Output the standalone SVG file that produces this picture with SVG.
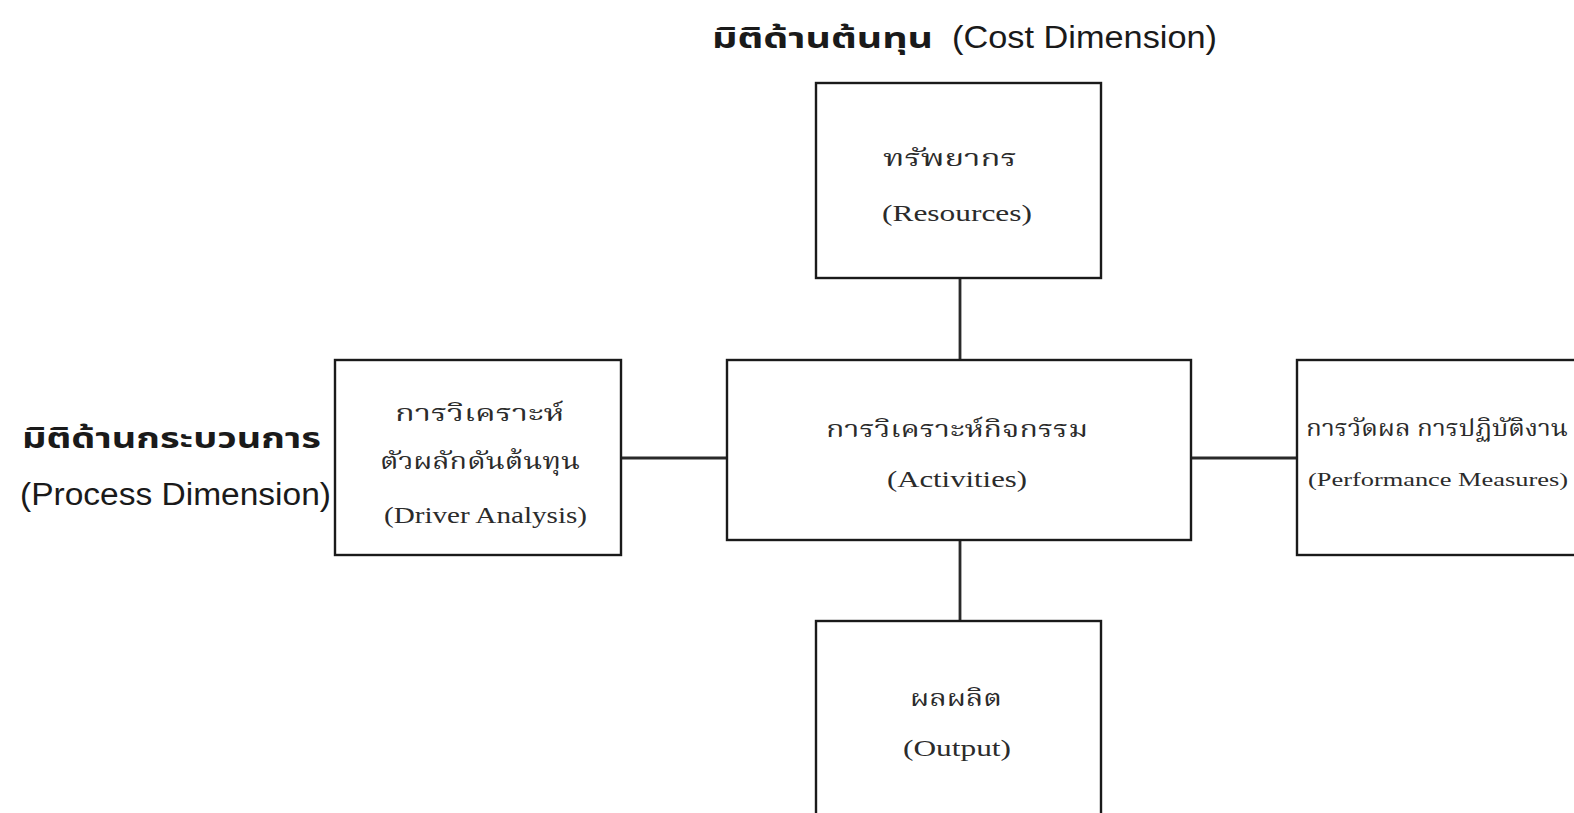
<svg xmlns="http://www.w3.org/2000/svg" width="1574" height="813" viewBox="0 0 1574 813">
  <style>
    .box { fill: #ffffff; stroke: #1a1a1a; stroke-width: 2.4; }
    .link { stroke: #2a2a2a; stroke-width: 2.8; fill: none; }
    .lbl { font-family: "Liberation Serif", "Noto Serif Thai", "Noto Sans Thai", serif; font-size: 23px; fill: #2b2b2b; }
    .th { font-size: 23px; }
    .small { font-size: 19px; }
    .dim { font-family: "Liberation Sans", "Noto Sans Thai", "Noto Sans", sans-serif; font-size: 31px; fill: #1a1a1a; }
    .dimth { font-weight: bold; font-size: 29px; }
  </style>

  <rect width="1574" height="813" fill="#ffffff"/>

  <!-- connectors between the activity box and its neighbours -->
  <g id="connectors">
    <line class="link" x1="960" y1="278" x2="960" y2="360"/>
    <line class="link" x1="960" y1="540" x2="960" y2="621"/>
    <line class="link" x1="621" y1="458" x2="727" y2="458"/>
    <line class="link" x1="1191" y1="458" x2="1297" y2="458"/>
  </g>

  <!-- axis captions -->
  <g id="cost-dimension">
    <text class="dim dimth" x="712" y="48" textLength="221" lengthAdjust="spacingAndGlyphs">มิติด้านต้นทุน</text>
    <text class="dim" x="952" y="48" textLength="265" lengthAdjust="spacingAndGlyphs">(Cost Dimension)</text>
  </g>
  <g id="process-dimension">
    <text class="dim dimth" x="22" y="448" textLength="299" lengthAdjust="spacingAndGlyphs">มิติด้านกระบวนการ</text>
    <text class="dim" x="20" y="505" textLength="311" lengthAdjust="spacingAndGlyphs">(Process Dimension)</text>
  </g>

  <g id="resources">
    <rect class="box" x="816" y="83" width="285" height="195"/>
    <text class="lbl th" x="883" y="166" textLength="134" lengthAdjust="spacingAndGlyphs">ทรัพยากร</text>
    <text class="lbl" x="882" y="221" textLength="150" lengthAdjust="spacingAndGlyphs">(Resources)</text>
  </g>

  <g id="activities">
    <rect class="box" x="727" y="360" width="464" height="180"/>
    <text class="lbl th" x="826" y="437" textLength="262" lengthAdjust="spacingAndGlyphs">การวิเคราะห์กิจกรรม</text>
    <text class="lbl" x="887" y="487" textLength="140" lengthAdjust="spacingAndGlyphs">(Activities)</text>
  </g>

  <g id="driver-analysis">
    <rect class="box" x="335" y="360" width="286" height="195"/>
    <text class="lbl th" x="395" y="421" textLength="169" lengthAdjust="spacingAndGlyphs">การวิเคราะห์</text>
    <text class="lbl th" x="380" y="469" textLength="200" lengthAdjust="spacingAndGlyphs">ตัวผลักดันต้นทุน</text>
    <text class="lbl" x="384" y="523" textLength="203" lengthAdjust="spacingAndGlyphs">(Driver Analysis)</text>
  </g>

  <g id="performance-measures">
    <rect class="box" x="1297" y="360" width="290" height="195"/>
    <text class="lbl th" x="1306" y="436" textLength="262" lengthAdjust="spacingAndGlyphs">การวัดผล การปฏิบัติงาน</text>
    <text class="lbl small" x="1308" y="486" textLength="260" lengthAdjust="spacingAndGlyphs">(Performance Measures)</text>
  </g>

  <g id="output">
    <rect class="box" x="816" y="621" width="285" height="205"/>
    <text class="lbl th" x="910" y="706" textLength="92" lengthAdjust="spacingAndGlyphs">ผลผลิต</text>
    <text class="lbl" x="903" y="756" textLength="108" lengthAdjust="spacingAndGlyphs">(Output)</text>
  </g>
</svg>
